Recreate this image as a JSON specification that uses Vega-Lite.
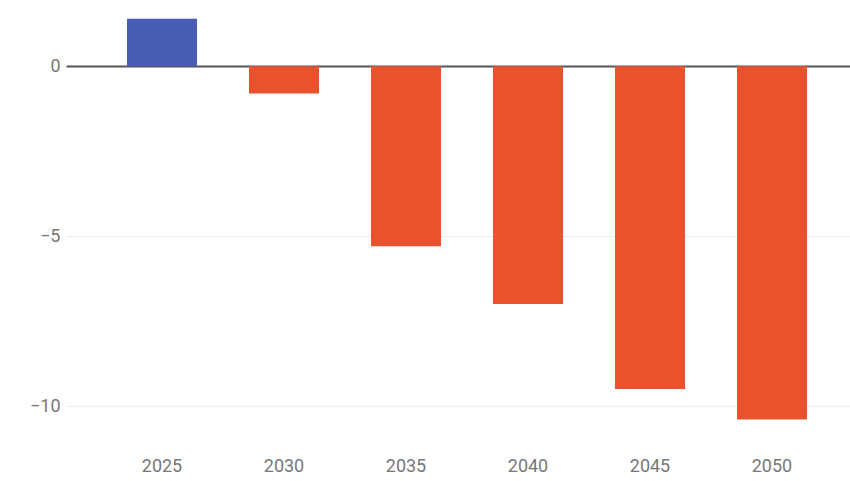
{
  "$schema": "https://vega.github.io/schema/vega-lite/v6.json",
  "autosize": "none",
  "width": 784,
  "height": 440,
  "padding": {"left": 66, "top": 0, "right": 0, "bottom": 41},
  "background": "white",
  "config": {"view": {"stroke": null}, "font": "Roboto"},
  "data": {"values": [
    {"year": "2025", "value": 1.4},
    {"year": "2030", "value": -0.8},
    {"year": "2035", "value": -5.3},
    {"year": "2040", "value": -7.0},
    {"year": "2045", "value": -9.5},
    {"year": "2050", "value": -10.4}
  ]},
  "mark": {"type": "bar"},
  "encoding": {
    "x": {
      "field": "year", "type": "ordinal",
      "scale": {"range": [0, 802], "paddingInner": 0.426, "paddingOuter": 0.5},
      "axis": {"title": null, "domain": false, "ticks": false, "labelAngle": 0, "labelPadding": 17,
               "labelFont": "Roboto", "labelFontSize": 18, "labelColor": "#777"}
    },
    "y": {
      "field": "value", "type": "quantitative",
      "scale": {"domain": [-11, 1.95], "nice": false, "zero": false},
      "axis": {"title": null, "domain": false, "ticks": false, "values": [0, -5, -10], "labelPadding": 6,
               "labelFont": "Roboto", "labelFontSize": 18, "labelColor": "#777",
               "format": "~s",
               "gridColor": {"condition": {"test": "datum.value === 0", "value": "#555"}, "value": "#eeeeee"},
               "gridWidth": {"condition": {"test": "datum.value === 0", "value": 2}, "value": 1}}
    },
    "color": {
      "condition": {"test": "datum.value > 0", "value": "#4A5DB5"},
      "value": "#E8522D"
    }
  }
}
